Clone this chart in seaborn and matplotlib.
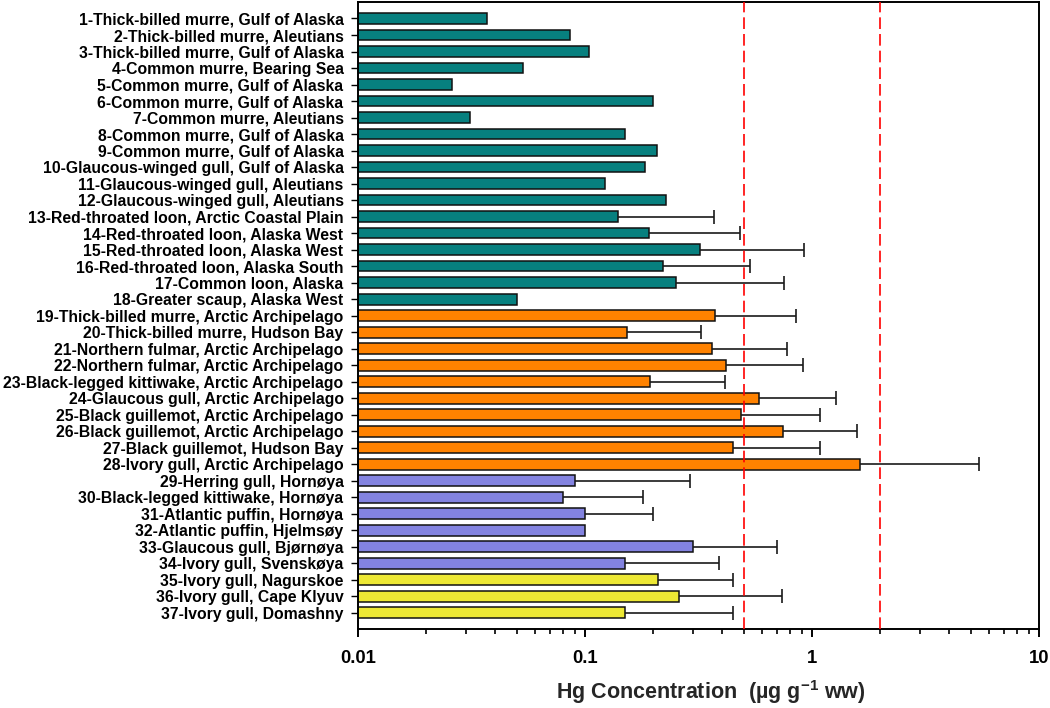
import numpy as np
import pandas as pd
import matplotlib.pyplot as plt
from matplotlib.ticker import NullFormatter
import seaborn as sns

# Hg concentration in seabird eggs, by species and site
sites = [
    '1-Thick-billed murre, Gulf of Alaska', '2-Thick-billed murre, Aleutians',
    '3-Thick-billed murre, Gulf of Alaska', '4-Common murre, Bearing Sea',
    '5-Common murre, Gulf of Alaska', '6-Common murre, Gulf of Alaska',
    '7-Common murre, Aleutians', '8-Common murre, Gulf of Alaska',
    '9-Common murre, Gulf of Alaska', '10-Glaucous-winged gull, Gulf of Alaska',
    '11-Glaucous-winged gull, Aleutians', '12-Glaucous-winged gull, Aleutians',
    '13-Red-throated loon, Arctic Coastal Plain', '14-Red-throated loon, Alaska West',
    '15-Red-throated loon, Alaska West', '16-Red-throated loon, Alaska South',
    '17-Common loon, Alaska', '18-Greater scaup, Alaska West',
    '19-Thick-billed murre, Arctic Archipelago', '20-Thick-billed murre, Hudson Bay',
    '21-Northern fulmar, Arctic Archipelago', '22-Northern fulmar, Arctic Archipelago',
    '23-Black-legged kittiwake, Arctic Archipelago', '24-Glaucous gull, Arctic Archipelago',
    '25-Black guillemot, Arctic Archipelago', '26-Black guillemot, Arctic Archipelago',
    '27-Black guillemot, Hudson Bay', '28-Ivory gull, Arctic Archipelago',
    '29-Herring gull, Hornøya', '30-Black-legged kittiwake, Hornøya',
    '31-Atlantic puffin, Hornøya', '32-Atlantic puffin, Hjelmsøy',
    '33-Glaucous gull, Bjørnøya', '34-Ivory gull, Svenskøya',
    '35-Ivory gull, Nagurskoe', '36-Ivory gull, Cape Klyuv',
    '37-Ivory gull, Domashny',
]
hg_mean = [0.037, 0.086, 0.104, 0.053, 0.026, 0.200, 0.031, 0.150, 0.207, 0.183,
           0.122, 0.227, 0.140, 0.191, 0.321, 0.220, 0.251, 0.050,
           0.374, 0.153, 0.363, 0.418, 0.193, 0.584, 0.486, 0.747, 0.450, 1.62,
           0.090, 0.080, 0.100, 0.100, 0.300, 0.150,
           0.210, 0.260, 0.150]
# upper end of the error bar (None = no error bar)
hg_upper = [None, None, None, None, None, None, None, None, None, None,
            None, None, 0.371, 0.480, 0.922, 0.531, 0.750, None,
            0.850, 0.323, 0.774, 0.910, 0.412, 1.27, 1.085, 1.58, 1.085, 5.45,
            0.290, 0.180, 0.200, None, 0.701, 0.389,
            0.450, 0.740, 0.450]
region = ['Alaska'] * 18 + ['Canada'] * 10 + ['Norway'] * 6 + ['Russia'] * 3
palette = {'Alaska': '#07807F', 'Canada': '#FF8200', 'Norway': '#8383E0', 'Russia': '#EDE834'}
guidelines = [0.5, 2.0]

sns.set_theme(style='ticks')
plt.rcParams['font.family'] = ['Liberation Sans', 'DejaVu Sans']
plt.rcParams['font.weight'] = 'bold'
plt.rcParams['mathtext.fontset'] = 'custom'
plt.rcParams['mathtext.rm'] = 'Liberation Sans:bold'
plt.rcParams['mathtext.it'] = 'Liberation Sans:bold'
plt.rcParams['mathtext.bf'] = 'Liberation Sans:bold'
plt.rcParams['mathtext.default'] = 'rm'

df = pd.DataFrame({'site': sites, 'hg': hg_mean, 'region': region})

fig = plt.figure(figsize=(10.5, 7.08), dpi=100)
ax = fig.add_axes([0.3411, 0.1111, 0.6484, 0.8861])
ax.set_xscale('log')
sns.barplot(data=df, x='hg', y='site', hue='region', palette=palette, dodge=False,
            saturation=1, width=0.65, edgecolor='#111111', linewidth=1.1,
            legend=False, ax=ax, zorder=2)

# one-sided error bars
idx = [i for i, u in enumerate(hg_upper) if u is not None]
xm = np.array([hg_mean[i] for i in idx])
xu = np.array([hg_upper[i] for i in idx])
eb = ax.errorbar(x=xm, y=idx, xerr=[np.zeros(len(idx)), xu - xm], fmt='none',
                 ecolor='#1a1a1a', elinewidth=1.2, capsize=4.7, capthick=1.2, zorder=3)
eb[1][0].set_visible(False)

for g in guidelines:
    ax.axvline(g, color='red', ls=(0, (7, 3)), lw=1.2, zorder=5)

ax.set_xlim(0.01, 10)
ax.set_ylim(37.0, -1.0)
ax.set_xticks([0.01, 0.1, 1, 10], ['0.01', '0.1', '1', '10'])
ax.xaxis.set_minor_formatter(NullFormatter())
ax.set_ylabel('')
ax.set_xlabel('Hg Concentration  (µg g$^{-1}$ ww)', fontsize=15.5, fontweight='bold',
              labelpad=8, x=0.518)

for s in ax.spines.values():
    s.set_visible(True)
    s.set_color('black')
    s.set_linewidth(1.4)
ax.tick_params(axis='y', labelsize=11.3, length=5, width=1, pad=5.5, colors='black')
ax.tick_params(axis='x', which='major', labelsize=13.3, length=5.8, width=1.4, pad=9, colors='black')
ax.tick_params(axis='x', which='minor', length=3.6, width=1.2, colors='black')
for lab in ax.get_yticklabels() + ax.get_xticklabels():
    lab.set_fontweight('bold')

fig.savefig('out.png', dpi=100)
